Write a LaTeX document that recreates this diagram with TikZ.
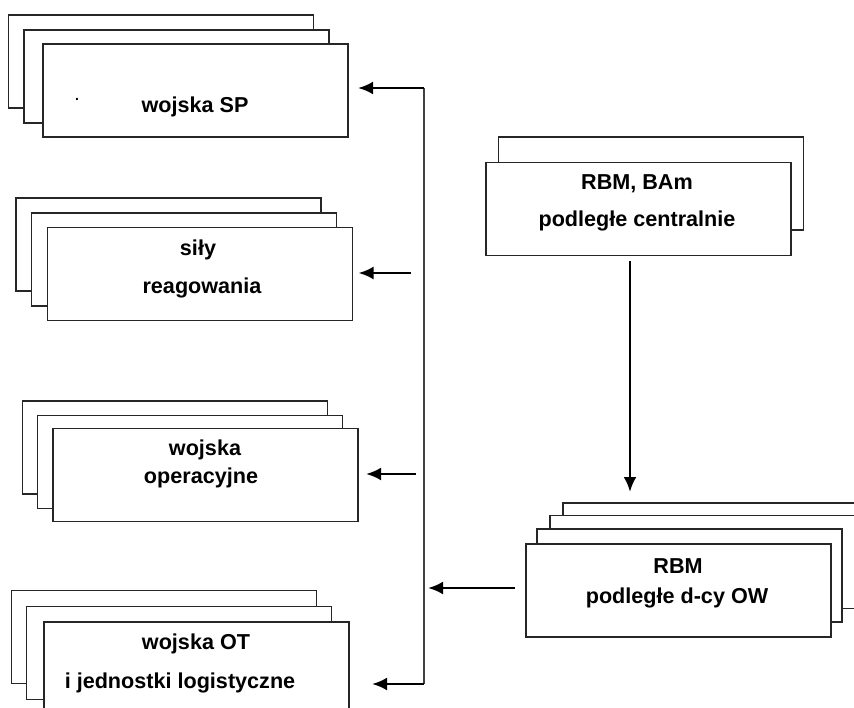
\documentclass[tikz,border=0pt]{standalone}
\usepackage{fontspec}
\setmainfont{Liberation Sans}
\usetikzlibrary{arrows.meta}
\begin{document}
\begin{tikzpicture}[x=1pt,y=-1pt,
  card/.style={draw=black!85, fill=white, line width=1.2pt, minimum width=305pt, minimum height=93pt, inner sep=0pt, outer sep=0pt},
  lbl/.style={font=\fontsize{21.6}{26}\selectfont\bfseries, anchor=base, inner sep=0pt},
  arr/.style={line width=2.8pt, -{Latex[length=15pt,width=13pt]}},
  spine/.style={draw=black!75, line width=1.5pt}]
\useasboundingbox (0,0) rectangle (854,708);
% stack 1: wojska SP
\node[card] (s1a) at (161,61.5) {};
\node[card] (s1b) at (176.5,76.5) {};
\node[card] (s1c) at (195.5,90.5) {};
\node[lbl, font=\fontsize{14}{16}\selectfont\bfseries] (t1dot) at (77,101) {.};
\node[lbl] (t1) at (195,113) {wojska SP};
% stack 2: sily reagowania
\node[card] (s2a) at (168.5,244.5) {};
\node[card] (s2b) at (184,259.5) {};
\node[card] (s2c) at (200,274) {};
\node[lbl] (t2a) at (198,256) {siły};
\node[lbl] (t2b) at (202,294) {reagowania};
% stack 3: wojska operacyjne
\node[card] (s3a) at (175,447.5) {};
\node[card] (s3b) at (190,462) {};
\node[card] (s3c) at (205.5,475) {};
\node[lbl] (t3a) at (205,455) {wojska};
\node[lbl] (t3b) at (201,483) {operacyjne};
% stack 4: wojska OT
\node[card] (s4a) at (164,637) {};
\node[card] (s4b) at (179,653) {};
\node[card] (s4c) at (196.5,668.5) {};
\node[lbl] (t4a) at (196,649) {wojska OT};
\node[lbl] (t4b) at (180,688) {i jednostki logistyczne};
% right top: RBM, BAm
\node[card] (rta) at (651,183.5) {};
\node[card] (rtb) at (638.5,209) {};
\node[lbl] (t5a) at (637,190) {RBM, BAm};
\node[lbl] (t5b) at (637,227) {podległe centralnie};
% right bottom: RBM d-cy OW
\node[card] (rba) at (715.5,549.5) {};
\node[card] (rbb) at (702.5,562) {};
\node[card] (rbc) at (689.5,575.5) {};
\node[card] (rbd) at (678.5,590.5) {};
\node[lbl] (t6a) at (678,573) {RBM};
\node[lbl] (t6b) at (677,603) {podległe d-cy OW};
% spine and arrows
\coordinate (vt) at (424,88);
\coordinate (vb) at (424,684);
\coordinate (a2) at (411,273);
\coordinate (a3) at (416,474);
\coordinate (rtip) at (428,588);
\coordinate (vtip) at (630,492);
\draw[spine] (vt) -- (vb);
\draw[arr, shorten >=10pt] (vt) -- (vt -| s1c.east);
\draw[arr, shorten >=6pt] (a2) -- (a2 -| s2c.east);
\draw[arr, shorten >=8pt] (a3) -- (a3 -| s3c.east);
\draw[arr, shorten >=23pt] (vb) -- (vb -| s4c.east);
\draw[arr, shorten <=11pt] (rtip -| rbd.west) -- (rtip);
\draw[arr, shorten <=6pt] (vtip |- rtb.south) -- (vtip);
\end{tikzpicture}
\end{document}
